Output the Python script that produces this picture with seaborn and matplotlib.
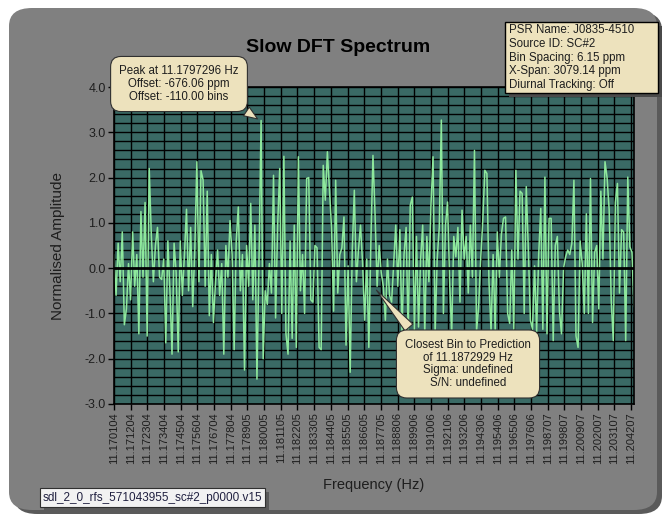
import numpy as np
import matplotlib
matplotlib.use("Agg")
import matplotlib.pyplot as plt
import seaborn as sns
from matplotlib.patches import FancyBboxPatch

# ---------------------------------------------------------
# DATA
# ---------------------------------------------------------
FREQ_START = 11.170104
FREQ_END = 11.204400

tick_labels = ["11.170104", "11.171204", "11.172304", "11.173404", "11.174504",
               "11.175604", "11.176704", "11.177804", "11.178905", "11.180005",
               "11.181105", "11.182205", "11.183305", "11.184405", "11.185505",
               "11.186605", "11.187705", "11.188806", "11.189906", "11.191006",
               "11.192106", "11.193206", "11.194306", "11.195406", "11.196506",
               "11.197606", "11.198707", "11.199807", "11.200907", "11.202007",
               "11.203107", "11.204207"]

amp_part1 = [0.3, -0.6, 0.55, -0.3, 0.8, -1.25, -0.9, 0.1, -0.7, 0.8,
             -0.4, 0.3, -1.45, 1.25, -0.2, 1.45, -1.5, 2.2, 0.75, -0.3,
             0.5, 0.9, -0.2, -0.25, 0.2, -1.65, 0.6, -0.5, -1.9, 0.55,
             -0.1, -1.85, 0.6, -0.6, 0.3, 1.3, -0.5, 0.9, -0.85, 0.4,
             2.35, -0.3, 2.15, 1.95, -0.4, 1.7, -1.05, 0.3, -1.2, -0.3,
             0.4, -0.6, 0.1, -1.9, 0.5, -0.2, 1.05, 0.3, -1.8, 0.6,
             1.35, -0.5, 0.3, -2.25]
amp_part2 = [0.5, -0.4, 1.43, -0.7, 0.95, -2.45, 0.2, 3.26, -2.0, -0.5,
             -0.8, 0.1, -0.55, 2.05, -1.1, 0.95, 2.2, -1.0, 2.47, -1.45,
             -1.9, 0.6, -1.55, 0.95, -1.75, 2.46, -0.5, 0.3, -1.0, 1.98,
             2.0, -0.7, -0.75, 0.5, 0.45, -1.75, -1.8, 2.27, 1.5, 2.57,
             1.72, 0.9, -0.95, 1.94, -0.55, 0.3, 0.45, 1.13, -1.7, 0.05,
             -2.3, 0.4, 1.72, -0.3, 0.4, 0.95, 0.1, -1.15, 0.2, -1.75,
             0.6, 2.49]
amp_part3 = [1.2, -0.4, 0.5, -0.1, -0.4, -1.15, 0.2, -0.6, -0.75, 0.1,
             0.95, -0.4, 0.85, -1.45, 0.3, 0.9, -1.5, 1.39, 1.57, -1.44,
             0.7, -1.3, 0.2, 0.95, -1.45, 0.7, -0.3, 1.39, 2.46, -1.45,
             0.2, 0.9, 3.27, -1.0, 0.95, 1.46, -0.3, -1.45, 0.7, 0.25,
             0.9, -0.75, 1.28, 0.2, 0.7, -0.55, 0.95, -0.2, 2.6, -1.4,
             -0.85, 0.2, 1.05, 2.16, 2.09, -0.3, -1.4, 0.3, -1.4, 0.8,
             -0.2, 0.75, 1.1]
amp_part4 = [1.13, -1.0, -1.22, 0.4, -1.35, 2.16, 0.2, 1.7, 1.65, -1.0,
             1.8, 0.4, -1.15, -1.35, 0.05, -1.4, 0.3, 1.32, -1.35, 2.01,
             -1.45, 1.1, 1.1, -1.6, 0.5, 0.7, -0.95, -1.45, 0.0, 0.25,
             0.4, 0.3, 0.55, 1.94, -1.5, -1.75, 0.6, 0.1, -1.0, 1.2,
             -1.0, 1.98, -1.2, 0.35, 0.5, -0.9, 1.7, 0.2, 2.35, 2.0,
             1.3, -0.7, -1.6, 1.45, 1.87, -0.55, 0.85, 0.8, -1.6, 2.01,
             0.47, 0.35, -0.85]

amplitude = amp_part1 + amp_part2 + amp_part3 + amp_part4
frequency = np.linspace(FREQ_START, FREQ_END, len(amplitude))

PEAK_FREQ = 11.1797296
PEAK_AMP = 3.26
PRED_FREQ = 11.1872929
PRED_AMP = -0.44

info_lines = ["PSR Name: J0835-4510", "Source ID: SC#2", "Bin Spacing: 6.15 ppm",
              "X-Span: 3079.14 ppm", "Diurnal Tracking: Off"]
peak_lines = ["Peak at 11.1797296 Hz", "Offset: -676.06 ppm", "Offset: -110.00 bins"]
pred_lines = ["Closest Bin to Prediction", "of 11.1872929 Hz", "Sigma: undefined", "S/N: undefined"]
file_name = "sdl_2_0_rfs_571043955_sc#2_p0000.v15"

# ---------------------------------------------------------
# STYLE
# ---------------------------------------------------------
sns.set_style("ticks")
plt.rcParams['font.family'] = ['Liberation Sans', 'DejaVu Sans']

PANEL = '#808080'
PLOT_BG = '#3a6a65'
LINE = '#8ee89c'
BEIGE = '#ede2bd'
TEXT = '#1e1e1e'

W, H = 663, 515
fig = plt.figure(figsize=(W / 100, H / 100), dpi=100)
fig.patch.set_facecolor('white')


def fbox(x0, y0, x1, y1, **kw):
    # rectangle given in picture pixels (top-left origin)
    return FancyBboxPatch((x0 / W, 1 - y1 / H), (x1 - x0) / W, (y1 - y0) / H,
                          transform=fig.transFigure, **kw)


# outer grey panel with a soft shadow
fig.patches.append(fbox(14, 12, 662, 514, boxstyle="round,pad=0,rounding_size=0.035",
                        fc='#5a5a5a', ec='none', zorder=0))
fig.patches.append(fbox(9, 8, 657, 510, boxstyle="round,pad=0,rounding_size=0.035",
                        fc=PANEL, ec='none', zorder=0.1))

ax = fig.add_axes([114 / W, 1 - 404 / H, 520 / W, 317 / H])
ax.set_zorder(2)
ax.set_facecolor(PLOT_BG)

sns.lineplot(x=frequency, y=amplitude, ax=ax, color=LINE, linewidth=1.1, zorder=2)

ax.set_xlim(FREQ_START, FREQ_END)
ax.set_ylim(-3.0, 4.0)

# grid: vertical at each frequency tick, horizontal every 0.2
tick_pos = [float(t) for t in tick_labels]
for xv in tick_pos:
    ax.axvline(xv, color='black', linewidth=1.0, zorder=1)
for yv in np.arange(-3.0, 4.01, 0.2):
    ax.axhline(yv, color='black', linewidth=1.0, zorder=1)
ax.axhline(0.0, color='black', linewidth=2.0, zorder=3)

ax.set_xticks(tick_pos)
ax.set_xticklabels(tick_labels, rotation=90, fontsize=8, color=TEXT)
ax.set_yticks(np.arange(-3.0, 4.01, 1.0))
ax.set_yticklabels([f"{v:.1f}" for v in np.arange(-3.0, 4.01, 1.0)], fontsize=9, color=TEXT)
ax.tick_params(axis='both', direction='out', length=4, width=1, color='black', pad=2)
for s in ax.spines.values():
    s.set_color('black')
    s.set_linewidth(1.2)

ax.set_xlabel("Frequency (Hz)", fontsize=10.5, color=TEXT, labelpad=10)
ax.set_ylabel("Normalised Amplitude", fontsize=11, color=TEXT, labelpad=14)

fig.text(338 / W, 1 - 47 / H, "Slow DFT Spectrum", ha='center', va='center',
         fontsize=14, fontweight='bold', color='black', zorder=3)

# callouts
bubble = dict(boxstyle="round,pad=0.75,rounding_size=0.9", fc=BEIGE, ec='#303030', lw=0.8)
ax.annotate("\n".join(peak_lines), xy=(PEAK_FREQ, PEAK_AMP), xycoords='data',
            xytext=(179 / W, 1 - 84 / H), textcoords='figure fraction',
            ha='center', va='center', fontsize=8.3, color=TEXT, linespacing=1.1,
            bbox=bubble, zorder=5, annotation_clip=False,
            arrowprops=dict(arrowstyle="wedge,tail_width=0.9,shrink_factor=0.5",
                            fc=BEIGE, ec='#303030', lw=0.8, relpos=(0.9, 0.12)))
ax.annotate("\n".join(pred_lines), xy=(PRED_FREQ, PRED_AMP), xycoords='data',
            xytext=(468 / W, 1 - 364 / H), textcoords='figure fraction',
            ha='center', va='center', fontsize=8.3, color=TEXT, linespacing=1.1,
            bbox=bubble, zorder=5, annotation_clip=False,
            arrowprops=dict(arrowstyle="wedge,tail_width=0.9,shrink_factor=0.5",
                            fc=BEIGE, ec='#303030', lw=0.8, relpos=(0.15, 0.88)))

# info box (top right) with shadow
fig.patches.append(fbox(509, 26, 662, 97, boxstyle="square,pad=0",
                        fc='#4a4a4a', ec='none', zorder=3))
fig.patches.append(fbox(505, 22, 658, 93, boxstyle="square,pad=0",
                        fc=BEIGE, ec='black', lw=1.0, zorder=3.1))
fig.text(509 / W, 1 - 57.5 / H, "\n".join(info_lines), ha='left', va='center',
         fontsize=8.3, color=TEXT, linespacing=1.2, zorder=3.2)

# file name box (bottom left)
fig.patches.append(fbox(44, 492, 269, 511, boxstyle="square,pad=0",
                        fc='#5a5a5a', ec='none', zorder=3))
fig.patches.append(fbox(40, 488, 265, 507, boxstyle="square,pad=0",
                        fc='#f2f2f2', ec='#303030', lw=0.8, zorder=3.1))
fig.text(152 / W, 1 - 497.5 / H, file_name, ha='center', va='center', fontsize=8.5,
         color='#202040', zorder=3.2)

fig.savefig('out.png', dpi=100, facecolor=fig.get_facecolor())
